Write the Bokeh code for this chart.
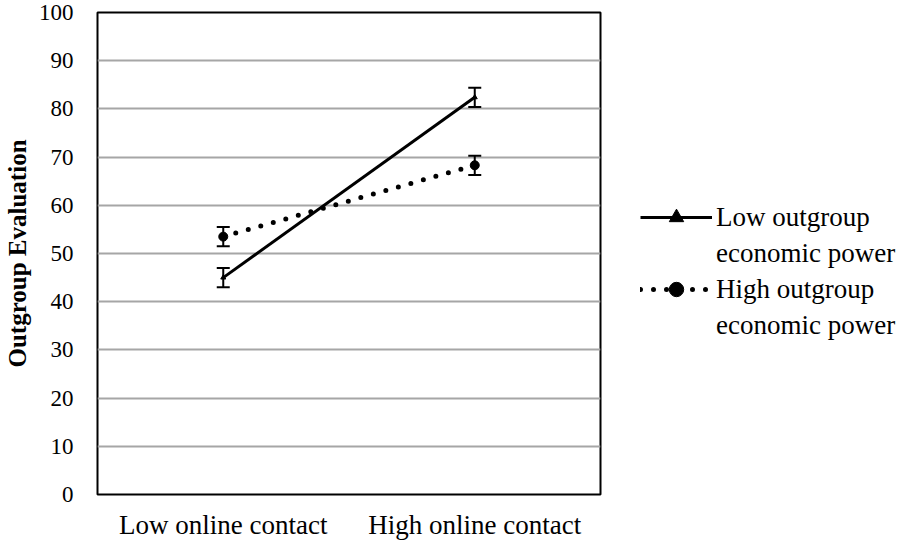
from bokeh.plotting import figure
from bokeh.models import (FactorRange, Whisker, TeeHead, ColumnDataSource, Legend,
                          LegendItem, Range1d, FixedTicker)
from bokeh.embed import file_html
from bokeh.resources import INLINE

contact = ["Low online contact", "High online contact"]
low_power = [45.0, 82.4]
low_power_err = [2.0, 2.0]
high_power = [53.5, 68.3]
high_power_err = [2.0, 2.0]
y_ticks = [0, 10, 20, 30, 40, 50, 60, 70, 80, 90, 100]
series_first = ["Low outgroup", "High outgroup"]
series_second = ["economic power", "economic power"]

FONT = "Liberation Serif"

p = figure(x_range=FactorRange(factors=contact), y_range=Range1d(0, 100),
           frame_width=503, frame_height=482, output_backend="svg", toolbar_location=None,
           min_border_left=94, min_border_right=0, min_border_top=12, min_border_bottom=40)

p.outline_line_color = "black"
p.outline_line_width = 2
p.xgrid.grid_line_color = None
p.ygrid.grid_line_color = "#a6a6a6"
p.ygrid.grid_line_width = 2
p.yaxis.ticker = FixedTicker(ticks=y_ticks)
for ax in (p.xaxis, p.yaxis):
    ax.axis_line_color = None
    ax.major_tick_line_color = None
    ax.minor_tick_line_color = None
    ax.major_tick_out = 0
    ax.major_tick_in = 0
    ax.major_label_text_font = FONT
    ax.major_label_text_font_size = "23px"
    ax.major_label_text_color = "black"
p.xaxis.major_label_text_font_size = "27px"
p.xaxis.major_label_standoff = 15
p.yaxis.major_label_standoff = 24
p.yaxis.axis_label = "Outgroup Evaluation"
p.yaxis.axis_label_text_font = FONT
p.yaxis.axis_label_text_font_style = "bold"
p.yaxis.axis_label_text_font_size = "25px"
p.yaxis.axis_label_text_color = "black"
p.yaxis.axis_label_standoff = 5

src_low = ColumnDataSource(dict(x=contact, y=low_power,
                                lo=[v - e for v, e in zip(low_power, low_power_err)],
                                hi=[v + e for v, e in zip(low_power, low_power_err)]))
src_high = ColumnDataSource(dict(x=contact, y=high_power,
                                 lo=[v - e for v, e in zip(high_power, high_power_err)],
                                 hi=[v + e for v, e in zip(high_power, high_power_err)]))

l1 = p.line("x", "y", source=src_low, line_color="black", line_width=3)
m1 = p.scatter("x", "y", source=src_low, marker="triangle", size=5, color="black")
l2 = p.line("x", "y", source=src_high, line_color="black", line_width=5,
            line_dash="0 13", line_cap="round")
m2 = p.scatter("x", "y", source=src_high, marker="circle", size=9, color="black")
# invisible renderer used only for the second line of each legend entry
blank = p.line("x", "y", source=src_low, line_alpha=0)

for src in (src_low, src_high):
    w = Whisker(base="x", lower="lo", upper="hi", source=src,
                line_color="black", line_width=2,
                upper_head=TeeHead(size=13, line_color="black", line_width=2),
                lower_head=TeeHead(size=13, line_color="black", line_width=2))
    p.add_layout(w)

legend = Legend(items=[LegendItem(label=series_first[0], renderers=[l1, m1]),
                       LegendItem(label=series_second[0], renderers=[blank]),
                       LegendItem(label=series_first[1], renderers=[l2, m2]),
                       LegendItem(label=series_second[1], renderers=[blank])],
                location=(40, 151), border_line_color=None, background_fill_alpha=0,
                label_text_font=FONT, label_text_font_size="27px", label_text_color="black",
                label_height=36, glyph_height=36, label_text_baseline="middle",
                glyph_width=72, label_standoff=4, spacing=0, padding=0, margin=0)
p.add_layout(legend, "right")

open("out.html", "w").write(file_html(p, INLINE))
